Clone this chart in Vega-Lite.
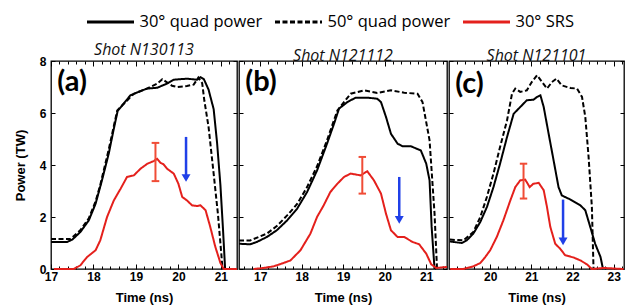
{
"$schema": "https://vega.github.io/schema/vega-lite/v6.json",
"padding": {"left": 13, "top": 5, "right": 2, "bottom": 0},
"background": "white",
"bounds": "flush",
"config": {
  "view": {"stroke": "#000", "strokeWidth": 1.3},
  "axis": {"domain": false, "grid": false, "labelFont": "Liberation Sans", "labelFontWeight": "bold", "labelFontSize": 12, "labelColor": "#000", "tickColor": "#000", "tickWidth": 1, "titleFont": "Liberation Sans", "titleFontWeight": "bold", "titleFontSize": 13, "titleColor": "#000"}
},
"datasets": {
  "a": [
    {"s":"q30","t":17.0,"P":1.04},{"s":"q30","t":17.38,"P":1.04},{"s":"q30","t":17.5,"P":1.13},{"s":"q30","t":17.69,"P":1.42},{"s":"q30","t":17.89,"P":1.87},{"s":"q30","t":18.05,"P":2.51},{"s":"q30","t":18.2,"P":3.41},{"s":"q30","t":18.36,"P":4.44},{"s":"q30","t":18.48,"P":5.4},{"s":"q30","t":18.57,"P":6.08},{"s":"q30","t":18.71,"P":6.36},{"s":"q30","t":18.87,"P":6.68},{"s":"q30","t":19.06,"P":6.81},{"s":"q30","t":19.26,"P":6.94},{"s":"q30","t":19.5,"P":6.97},{"s":"q30","t":19.73,"P":7.13},{"s":"q30","t":19.89,"P":7.28},{"s":"q30","t":20.2,"P":7.32},{"s":"q30","t":20.44,"P":7.28},{"s":"q30","t":20.52,"P":7.38},{"s":"q30","t":20.6,"P":7.3},{"s":"q30","t":20.71,"P":6.9},{"s":"q30","t":20.83,"P":6.15},{"s":"q30","t":20.91,"P":4.87},{"s":"q30","t":20.99,"P":3.21},{"s":"q30","t":21.05,"P":1.54},{"s":"q30","t":21.1,"P":0},
    {"s":"q50","t":17.0,"P":1.15},{"s":"q50","t":17.46,"P":1.15},{"s":"q50","t":17.69,"P":1.49},{"s":"q50","t":17.89,"P":1.95},{"s":"q50","t":18.05,"P":2.6},{"s":"q50","t":18.16,"P":3.23},{"s":"q50","t":18.36,"P":4.6},{"s":"q50","t":18.48,"P":5.5},{"s":"q50","t":18.56,"P":6.1},{"s":"q50","t":18.95,"P":6.74},{"s":"q50","t":19.26,"P":6.94},{"s":"q50","t":19.5,"P":7.13},{"s":"q50","t":19.62,"P":7.3},{"s":"q50","t":19.73,"P":7.18},{"s":"q50","t":19.85,"P":7.05},{"s":"q50","t":19.97,"P":7.0},{"s":"q50","t":20.2,"P":7.04},{"s":"q50","t":20.36,"P":7.09},{"s":"q50","t":20.47,"P":7.36},{"s":"q50","t":20.56,"P":7.15},{"s":"q50","t":20.61,"P":6.49},{"s":"q50","t":20.71,"P":5.47},{"s":"q50","t":20.83,"P":3.67},{"s":"q50","t":20.93,"P":2.13},{"s":"q50","t":21.01,"P":0.59},{"s":"q50","t":21.04,"P":0},
    {"s":"srs","t":17.07,"P":0},{"s":"srs","t":17.54,"P":0},{"s":"srs","t":17.69,"P":0.14},{"s":"srs","t":17.85,"P":0.46},{"s":"srs","t":18.05,"P":0.72},{"s":"srs","t":18.16,"P":1.1},{"s":"srs","t":18.32,"P":2.0},{"s":"srs","t":18.48,"P":2.64},{"s":"srs","t":18.64,"P":3.09},{"s":"srs","t":18.79,"P":3.54},{"s":"srs","t":18.95,"P":3.6},{"s":"srs","t":19.11,"P":3.86},{"s":"srs","t":19.27,"P":4.05},{"s":"srs","t":19.42,"P":4.15},{"s":"srs","t":19.5,"P":4.24},{"s":"srs","t":19.58,"P":4.08},{"s":"srs","t":19.65,"P":4.03},{"s":"srs","t":19.73,"P":3.86},{"s":"srs","t":19.89,"P":3.67},{"s":"srs","t":20.0,"P":3.28},{"s":"srs","t":20.09,"P":2.77},{"s":"srs","t":20.2,"P":2.64},{"s":"srs","t":20.32,"P":2.45},{"s":"srs","t":20.44,"P":2.42},{"s":"srs","t":20.52,"P":2.45},{"s":"srs","t":20.64,"P":2.26},{"s":"srs","t":20.75,"P":1.62},{"s":"srs","t":20.87,"P":0.85},{"s":"srs","t":20.99,"P":0.23},{"s":"srs","t":21.07,"P":0},{"s":"srs","t":21.38,"P":0}
  ],
  "b": [
    {"s":"q30","t":16.49,"P":0.97},{"s":"q30","t":16.76,"P":0.95},{"s":"q30","t":16.92,"P":1.04},{"s":"q30","t":17.16,"P":1.23},{"s":"q30","t":17.4,"P":1.49},{"s":"q30","t":17.65,"P":1.87},{"s":"q30","t":17.89,"P":2.32},{"s":"q30","t":18.13,"P":2.96},{"s":"q30","t":18.37,"P":3.79},{"s":"q30","t":18.61,"P":4.82},{"s":"q30","t":18.78,"P":5.59},{"s":"q30","t":18.9,"P":6.17},{"s":"q30","t":19.1,"P":6.42},{"s":"q30","t":19.3,"P":6.59},{"s":"q30","t":19.58,"P":6.59},{"s":"q30","t":19.82,"P":6.55},{"s":"q30","t":19.91,"P":6.42},{"s":"q30","t":20.03,"P":5.85},{"s":"q30","t":20.15,"P":5.2},{"s":"q30","t":20.31,"P":4.82},{"s":"q30","t":20.43,"P":4.72},{"s":"q30","t":20.63,"P":4.72},{"s":"q30","t":20.87,"P":4.56},{"s":"q30","t":21.0,"P":4.05},{"s":"q30","t":21.08,"P":3.41},{"s":"q30","t":21.13,"P":1.62},{"s":"q30","t":21.2,"P":0},
    {"s":"q50","t":16.49,"P":1.1},{"s":"q50","t":16.76,"P":1.1},{"s":"q50","t":17.16,"P":1.36},{"s":"q50","t":17.4,"P":1.65},{"s":"q50","t":17.65,"P":2.06},{"s":"q50","t":17.89,"P":2.5},{"s":"q50","t":18.13,"P":3.15},{"s":"q50","t":18.37,"P":3.95},{"s":"q50","t":18.61,"P":4.95},{"s":"q50","t":18.86,"P":6.1},{"s":"q50","t":19.18,"P":6.74},{"s":"q50","t":19.5,"P":6.87},{"s":"q50","t":19.82,"P":6.77},{"s":"q50","t":20.15,"P":6.87},{"s":"q50","t":20.47,"P":6.78},{"s":"q50","t":20.79,"P":6.74},{"s":"q50","t":20.91,"P":6.42},{"s":"q50","t":21.08,"P":4.95},{"s":"q50","t":21.2,"P":2.13},{"s":"q50","t":21.26,"P":0},
    {"s":"srs","t":16.84,"P":0},{"s":"srs","t":17.08,"P":0.04},{"s":"srs","t":17.32,"P":0.1},{"s":"srs","t":17.56,"P":0.23},{"s":"srs","t":17.73,"P":0.33},{"s":"srs","t":17.97,"P":0.72},{"s":"srs","t":18.21,"P":1.36},{"s":"srs","t":18.37,"P":2.0},{"s":"srs","t":18.53,"P":2.45},{"s":"srs","t":18.69,"P":2.96},{"s":"srs","t":18.86,"P":3.28},{"s":"srs","t":19.02,"P":3.54},{"s":"srs","t":19.18,"P":3.67},{"s":"srs","t":19.42,"P":3.6},{"s":"srs","t":19.58,"P":3.76},{"s":"srs","t":19.74,"P":3.41},{"s":"srs","t":19.91,"P":2.9},{"s":"srs","t":20.03,"P":2.13},{"s":"srs","t":20.15,"P":1.49},{"s":"srs","t":20.31,"P":1.23},{"s":"srs","t":20.47,"P":1.23},{"s":"srs","t":20.67,"P":1.04},{"s":"srs","t":20.83,"P":0.95},{"s":"srs","t":21.0,"P":0.59},{"s":"srs","t":21.12,"P":0.18},{"s":"srs","t":21.24,"P":0.04},{"s":"srs","t":21.5,"P":0.08}
  ],
  "c": [
    {"s":"q30","t":19.02,"P":1.06},{"s":"q30","t":19.11,"P":1.04},{"s":"q30","t":19.31,"P":1.0},{"s":"q30","t":19.43,"P":1.1},{"s":"q30","t":19.59,"P":1.36},{"s":"q30","t":19.76,"P":1.81},{"s":"q30","t":19.92,"P":2.38},{"s":"q30","t":20.08,"P":3.15},{"s":"q30","t":20.24,"P":4.05},{"s":"q30","t":20.41,"P":5.08},{"s":"q30","t":20.57,"P":5.97},{"s":"q30","t":20.73,"P":6.23},{"s":"q30","t":20.89,"P":6.49},{"s":"q30","t":21.05,"P":6.51},{"s":"q30","t":21.14,"P":6.62},{"s":"q30","t":21.22,"P":6.68},{"s":"q30","t":21.3,"P":6.23},{"s":"q30","t":21.42,"P":5.2},{"s":"q30","t":21.54,"P":4.18},{"s":"q30","t":21.66,"P":3.15},{"s":"q30","t":21.74,"P":2.83},{"s":"q30","t":21.95,"P":2.67},{"s":"q30","t":22.19,"P":2.45},{"s":"q30","t":22.31,"P":2.26},{"s":"q30","t":22.43,"P":1.62},{"s":"q30","t":22.55,"P":0.97},{"s":"q30","t":22.68,"P":0.46},{"s":"q30","t":22.74,"P":0},
    {"s":"q50","t":19.02,"P":1.13},{"s":"q50","t":19.35,"P":1.1},{"s":"q50","t":19.59,"P":1.42},{"s":"q50","t":19.76,"P":2.0},{"s":"q50","t":19.92,"P":2.77},{"s":"q50","t":20.08,"P":3.67},{"s":"q50","t":20.24,"P":4.69},{"s":"q50","t":20.41,"P":5.72},{"s":"q50","t":20.53,"P":6.74},{"s":"q50","t":20.61,"P":6.94},{"s":"q50","t":20.73,"P":6.81},{"s":"q50","t":20.89,"P":6.87},{"s":"q50","t":21.01,"P":7.19},{"s":"q50","t":21.14,"P":7.45},{"s":"q50","t":21.26,"P":7.19},{"s":"q50","t":21.38,"P":6.94},{"s":"q50","t":21.5,"P":7.19},{"s":"q50","t":21.61,"P":7.32},{"s":"q50","t":21.74,"P":7.06},{"s":"q50","t":21.95,"P":6.96},{"s":"q50","t":22.11,"P":6.94},{"s":"q50","t":22.23,"P":6.62},{"s":"q50","t":22.31,"P":5.85},{"s":"q50","t":22.39,"P":4.31},{"s":"q50","t":22.47,"P":2.38},{"s":"q50","t":22.51,"P":0},
    {"s":"srs","t":19.03,"P":0},{"s":"srs","t":19.35,"P":0},{"s":"srs","t":19.59,"P":0.1},{"s":"srs","t":19.76,"P":0.23},{"s":"srs","t":19.88,"P":0.46},{"s":"srs","t":20.0,"P":0.72},{"s":"srs","t":20.16,"P":1.23},{"s":"srs","t":20.32,"P":1.87},{"s":"srs","t":20.49,"P":2.64},{"s":"srs","t":20.61,"P":3.15},{"s":"srs","t":20.73,"P":3.41},{"s":"srs","t":20.85,"P":3.44},{"s":"srs","t":20.96,"P":3.15},{"s":"srs","t":21.05,"P":3.28},{"s":"srs","t":21.18,"P":3.31},{"s":"srs","t":21.3,"P":3.03},{"s":"srs","t":21.38,"P":2.38},{"s":"srs","t":21.46,"P":1.62},{"s":"srs","t":21.58,"P":0.97},{"s":"srs","t":21.7,"P":0.78},{"s":"srs","t":21.82,"P":0.53},{"s":"srs","t":22.03,"P":0.44},{"s":"srs","t":22.19,"P":0.33},{"s":"srs","t":22.35,"P":0.18},{"s":"srs","t":22.47,"P":0},{"s":"srs","t":22.76,"P":0.04},{"s":"srs","t":23.24,"P":0}
  ]
},
"spacing": 2,
"resolve": {"scale": {"x": "independent", "y": "independent", "color": "shared", "strokeDash": "shared"}, "legend": {"color": "shared", "strokeDash": "shared"}},
"hconcat": [
  {
    "width": 186, "height": 208,
    "title": {"text": "Shot N130113", "font": "Open Sans", "fontStyle": "italic", "fontWeight": "normal", "fontSize": 16, "color": "#111", "offset": -3},
    "resolve": {"axis": {"x": "independent", "y": "independent"}},
    "layer": [
      {"data": {"name": "a"}, "mark": {"type": "line", "strokeWidth": 2},
       "encoding": {
         "x": {"field": "t", "type": "quantitative", "scale": {"domain": [17, 21.38], "nice": false, "zero": false},
               "axis": {"title": "Time (ns)", "values": [17,17.2,17.4,17.6,17.8,18,18.2,18.4,18.6,18.8,19,19.2,19.4,19.6,19.8,20,20.2,20.4,20.6,20.8,21,21.2], "labelExpr": "abs(datum.value-round(datum.value))<0.01 ? format(datum.value,'d') : ''", "tickSize": {"condition": {"test": "abs(datum.value-round(datum.value))<0.01", "value": -5}, "value": -3}, "labelFlush": false, "labelOverlap": false, "labelPadding": 7, "titlePadding": 7}},
         "y": {"field": "P", "type": "quantitative", "scale": {"domain": [0, 8], "nice": false, "zero": true},
               "axis": {"title": "Power (TW)", "values": [0,2,4,6,8], "tickSize": -4, "labelPadding": 9, "titlePadding": 12}},
         "color": {"field": "s", "type": "nominal", "scale": {"domain": ["q30","q50","srs"], "range": ["#000000","#000000","#e4201c"]},
                   "legend": {"title": null, "orient": "none", "legendX": 43, "legendY": -55.5, "direction": "horizontal", "symbolType": "M-1.567,0H1.567", "symbolSize": 900, "symbolStrokeWidth": 3, "symbolFillColor": "transparent", "labelFont": "Open Sans", "labelFontSize": 16.5, "labelColor": "#000", "columnPadding": 5, "labelOffset": 12.5, "labelExpr": "datum.value=='q30' ? '30° quad power' : datum.value=='q50' ? '50° quad power' : '30° SRS'"}},
         "strokeDash": {"field": "s", "type": "nominal", "scale": {"domain": ["q30","q50","srs"], "range": [[1,0],[5,2.5],[1,0]]},
                   "legend": {"title": null, "orient": "none", "legendX": 43, "legendY": -55.5, "direction": "horizontal", "symbolType": "M-1.567,0H1.567", "symbolSize": 900, "symbolStrokeWidth": 3, "symbolFillColor": "transparent", "labelFont": "Open Sans", "labelFontSize": 16.5, "labelColor": "#000", "columnPadding": 5, "labelOffset": 12.5, "labelExpr": "datum.value=='q30' ? '30° quad power' : datum.value=='q50' ? '50° quad power' : '30° SRS'"}}
       }},
      {"data": {"name": "a"}, "mark": {"type": "point", "opacity": 0, "size": 1},
       "encoding": {
         "x": {"field": "t", "type": "quantitative", "axis": {"orient": "top", "title": null, "labels": false, "values": [17,17.2,17.4,17.6,17.8,18,18.2,18.4,18.6,18.8,19,19.2,19.4,19.6,19.8,20,20.2,20.4,20.6,20.8,21,21.2], "tickSize": {"condition": {"test": "abs(datum.value-round(datum.value))<0.01", "value": -5}, "value": -3}}},
         "y": {"field": "P", "type": "quantitative", "axis": {"orient": "right", "title": null, "labels": false, "values": [0,2,4,6,8], "tickSize": -4}}
       }},
      {"data": {"values": [{"t": 19.46, "lo": 3.38, "hi": 4.85, "tl": 19.37, "tr": 19.55}]},
       "layer": [
         {"mark": {"type": "rule", "color": "#f04c36", "strokeWidth": 2}, "encoding": {"x": {"field": "t", "type": "quantitative", "axis": null}, "y": {"field": "lo", "type": "quantitative", "axis": null}, "y2": {"field": "hi"}}},
         {"mark": {"type": "rule", "color": "#f04c36", "strokeWidth": 2}, "encoding": {"x": {"field": "tl", "type": "quantitative", "axis": null}, "x2": {"field": "tr"}, "y": {"field": "lo", "type": "quantitative", "axis": null}}},
         {"mark": {"type": "rule", "color": "#f04c36", "strokeWidth": 2}, "encoding": {"x": {"field": "tl", "type": "quantitative", "axis": null}, "x2": {"field": "tr"}, "y": {"field": "hi", "type": "quantitative", "axis": null}}}
       ]},
      {"data": {"values": [{"t": 20.18, "top": 5.08, "bot": 3.6, "head": 3.5}]},
       "layer": [
         {"mark": {"type": "rule", "color": "#2040e8", "strokeWidth": 2.5}, "encoding": {"x": {"field": "t", "type": "quantitative", "axis": null}, "y": {"field": "top", "type": "quantitative", "axis": null}, "y2": {"field": "bot"}}},
         {"mark": {"type": "point", "shape": "triangle-down", "filled": true, "color": "#2040e8", "size": 80, "opacity": 1}, "encoding": {"x": {"field": "t", "type": "quantitative", "axis": null}, "y": {"field": "head", "type": "quantitative", "axis": null}}}
       ]},
      {"data": {"values": [{"t": 17.15, "P": 7.72, "lab": "(a)"}]},
       "mark": {"type": "text", "font": "Lato", "fontWeight": "bold", "fontSize": 29, "align": "left", "baseline": "top", "color": "#000"},
       "encoding": {"x": {"field": "t", "type": "quantitative", "axis": null}, "y": {"field": "P", "type": "quantitative", "axis": null}, "text": {"field": "lab"}}}
    ]
  },
  {
    "width": 208, "height": 208,
    "title": {"text": "Shot N121112", "font": "Open Sans", "fontStyle": "italic", "fontWeight": "normal", "fontSize": 16, "color": "#111", "offset": -3},
    "resolve": {"axis": {"x": "independent", "y": "independent"}},
    "layer": [
      {"data": {"name": "b"}, "mark": {"type": "line", "strokeWidth": 2},
       "encoding": {
         "x": {"field": "t", "type": "quantitative", "scale": {"domain": [16.49, 21.5], "nice": false, "zero": false},
               "axis": {"title": "Time (ns)", "values": [16.6,16.8,17,17.2,17.4,17.6,17.8,18,18.2,18.4,18.6,18.8,19,19.2,19.4,19.6,19.8,20,20.2,20.4,20.6,20.8,21,21.2,21.4], "labelExpr": "abs(datum.value-round(datum.value))<0.01 ? format(datum.value,'d') : ''", "tickSize": {"condition": {"test": "abs(datum.value-round(datum.value))<0.01", "value": -5}, "value": -3}, "labelFlush": false, "labelOverlap": false, "labelPadding": 7, "titlePadding": 7}},
         "y": {"field": "P", "type": "quantitative", "scale": {"domain": [0, 8], "nice": false, "zero": true},
               "axis": {"title": null, "labels": false, "values": [0,2,4,6,8], "tickSize": -4}},
         "color": {"field": "s", "type": "nominal", "scale": {"domain": ["q30","q50","srs"], "range": ["#000000","#000000","#e4201c"]},
                   "legend": {"title": null, "orient": "none", "legendX": 43, "legendY": -55.5, "direction": "horizontal", "symbolType": "M-1.567,0H1.567", "symbolSize": 900, "symbolStrokeWidth": 3, "symbolFillColor": "transparent", "labelFont": "Open Sans", "labelFontSize": 16.5, "labelColor": "#000", "columnPadding": 5, "labelOffset": 12.5, "labelExpr": "datum.value=='q30' ? '30° quad power' : datum.value=='q50' ? '50° quad power' : '30° SRS'"}},
         "strokeDash": {"field": "s", "type": "nominal", "scale": {"domain": ["q30","q50","srs"], "range": [[1,0],[5,2.5],[1,0]]},
                   "legend": {"title": null, "orient": "none", "legendX": 43, "legendY": -55.5, "direction": "horizontal", "symbolType": "M-1.567,0H1.567", "symbolSize": 900, "symbolStrokeWidth": 3, "symbolFillColor": "transparent", "labelFont": "Open Sans", "labelFontSize": 16.5, "labelColor": "#000", "columnPadding": 5, "labelOffset": 12.5, "labelExpr": "datum.value=='q30' ? '30° quad power' : datum.value=='q50' ? '50° quad power' : '30° SRS'"}}
       }},
      {"data": {"name": "b"}, "mark": {"type": "point", "opacity": 0, "size": 1},
       "encoding": {
         "x": {"field": "t", "type": "quantitative", "axis": {"orient": "top", "title": null, "labels": false, "values": [16.6,16.8,17,17.2,17.4,17.6,17.8,18,18.2,18.4,18.6,18.8,19,19.2,19.4,19.6,19.8,20,20.2,20.4,20.6,20.8,21,21.2,21.4], "tickSize": {"condition": {"test": "abs(datum.value-round(datum.value))<0.01", "value": -5}, "value": -3}}},
         "y": {"field": "P", "type": "quantitative", "axis": {"orient": "right", "title": null, "labels": false, "values": [0,2,4,6,8], "tickSize": -4}}
       }},
      {"data": {"values": [{"t": 19.46, "lo": 2.9, "hi": 4.31, "tl": 19.37, "tr": 19.55}]},
       "layer": [
         {"mark": {"type": "rule", "color": "#f04c36", "strokeWidth": 2}, "encoding": {"x": {"field": "t", "type": "quantitative", "axis": null}, "y": {"field": "lo", "type": "quantitative", "axis": null}, "y2": {"field": "hi"}}},
         {"mark": {"type": "rule", "color": "#f04c36", "strokeWidth": 2}, "encoding": {"x": {"field": "tl", "type": "quantitative", "axis": null}, "x2": {"field": "tr"}, "y": {"field": "lo", "type": "quantitative", "axis": null}}},
         {"mark": {"type": "rule", "color": "#f04c36", "strokeWidth": 2}, "encoding": {"x": {"field": "tl", "type": "quantitative", "axis": null}, "x2": {"field": "tr"}, "y": {"field": "hi", "type": "quantitative", "axis": null}}}
       ]},
      {"data": {"values": [{"t": 20.35, "top": 3.54, "bot": 1.99, "head": 1.89}]},
       "layer": [
         {"mark": {"type": "rule", "color": "#2040e8", "strokeWidth": 2.5}, "encoding": {"x": {"field": "t", "type": "quantitative", "axis": null}, "y": {"field": "top", "type": "quantitative", "axis": null}, "y2": {"field": "bot"}}},
         {"mark": {"type": "point", "shape": "triangle-down", "filled": true, "color": "#2040e8", "size": 80, "opacity": 1}, "encoding": {"x": {"field": "t", "type": "quantitative", "axis": null}, "y": {"field": "head", "type": "quantitative", "axis": null}}}
       ]},
      {"data": {"values": [{"t": 16.64, "P": 7.72, "lab": "(b)"}]},
       "mark": {"type": "text", "font": "Lato", "fontWeight": "bold", "fontSize": 29, "align": "left", "baseline": "top", "color": "#000"},
       "encoding": {"x": {"field": "t", "type": "quantitative", "axis": null}, "y": {"field": "P", "type": "quantitative", "axis": null}, "text": {"field": "lab"}}}
    ]
  },
  {
    "width": 175, "height": 208,
    "title": {"text": "Shot N121101", "font": "Open Sans", "fontStyle": "italic", "fontWeight": "normal", "fontSize": 16, "color": "#111", "offset": -3},
    "resolve": {"axis": {"x": "independent", "y": "independent"}},
    "layer": [
      {"data": {"name": "c"}, "mark": {"type": "line", "strokeWidth": 2},
       "encoding": {
         "x": {"field": "t", "type": "quantitative", "scale": {"domain": [19.0, 23.25], "nice": false, "zero": false},
               "axis": {"title": "Time (ns)", "values": [19.2,19.4,19.6,19.8,20,20.2,20.4,20.6,20.8,21,21.2,21.4,21.6,21.8,22,22.2,22.4,22.6,22.8,23,23.2], "labelExpr": "abs(datum.value-round(datum.value))<0.01 ? format(datum.value,'d') : ''", "tickSize": {"condition": {"test": "abs(datum.value-round(datum.value))<0.01", "value": -5}, "value": -3}, "labelFlush": false, "labelOverlap": false, "labelPadding": 7, "titlePadding": 7}},
         "y": {"field": "P", "type": "quantitative", "scale": {"domain": [0, 8], "nice": false, "zero": true},
               "axis": {"title": null, "labels": false, "values": [0,2,4,6,8], "tickSize": -4}},
         "color": {"field": "s", "type": "nominal", "scale": {"domain": ["q30","q50","srs"], "range": ["#000000","#000000","#e4201c"]},
                   "legend": {"title": null, "orient": "none", "legendX": 43, "legendY": -55.5, "direction": "horizontal", "symbolType": "M-1.567,0H1.567", "symbolSize": 900, "symbolStrokeWidth": 3, "symbolFillColor": "transparent", "labelFont": "Open Sans", "labelFontSize": 16.5, "labelColor": "#000", "columnPadding": 5, "labelOffset": 12.5, "labelExpr": "datum.value=='q30' ? '30° quad power' : datum.value=='q50' ? '50° quad power' : '30° SRS'"}},
         "strokeDash": {"field": "s", "type": "nominal", "scale": {"domain": ["q30","q50","srs"], "range": [[1,0],[5,2.5],[1,0]]},
                   "legend": {"title": null, "orient": "none", "legendX": 43, "legendY": -55.5, "direction": "horizontal", "symbolType": "M-1.567,0H1.567", "symbolSize": 900, "symbolStrokeWidth": 3, "symbolFillColor": "transparent", "labelFont": "Open Sans", "labelFontSize": 16.5, "labelColor": "#000", "columnPadding": 5, "labelOffset": 12.5, "labelExpr": "datum.value=='q30' ? '30° quad power' : datum.value=='q50' ? '50° quad power' : '30° SRS'"}}
       }},
      {"data": {"name": "c"}, "mark": {"type": "point", "opacity": 0, "size": 1},
       "encoding": {
         "x": {"field": "t", "type": "quantitative", "axis": {"orient": "top", "title": null, "labels": false, "values": [19.2,19.4,19.6,19.8,20,20.2,20.4,20.6,20.8,21,21.2,21.4,21.6,21.8,22,22.2,22.4,22.6,22.8,23,23.2], "tickSize": {"condition": {"test": "abs(datum.value-round(datum.value))<0.01", "value": -5}, "value": -3}}},
         "y": {"field": "P", "type": "quantitative", "axis": {"orient": "right", "title": null, "labels": false, "values": [0,2,4,6,8], "tickSize": -4}}
       }},
      {"data": {"values": [{"t": 20.81, "lo": 2.71, "hi": 4.05, "tl": 20.72, "tr": 20.9}]},
       "layer": [
         {"mark": {"type": "rule", "color": "#f04c36", "strokeWidth": 2}, "encoding": {"x": {"field": "t", "type": "quantitative", "axis": null}, "y": {"field": "lo", "type": "quantitative", "axis": null}, "y2": {"field": "hi"}}},
         {"mark": {"type": "rule", "color": "#f04c36", "strokeWidth": 2}, "encoding": {"x": {"field": "tl", "type": "quantitative", "axis": null}, "x2": {"field": "tr"}, "y": {"field": "lo", "type": "quantitative", "axis": null}}},
         {"mark": {"type": "rule", "color": "#f04c36", "strokeWidth": 2}, "encoding": {"x": {"field": "tl", "type": "quantitative", "axis": null}, "x2": {"field": "tr"}, "y": {"field": "hi", "type": "quantitative", "axis": null}}}
       ]},
      {"data": {"values": [{"t": 21.77, "top": 2.67, "bot": 1.16, "head": 1.06}]},
       "layer": [
         {"mark": {"type": "rule", "color": "#2040e8", "strokeWidth": 2.5}, "encoding": {"x": {"field": "t", "type": "quantitative", "axis": null}, "y": {"field": "top", "type": "quantitative", "axis": null}, "y2": {"field": "bot"}}},
         {"mark": {"type": "point", "shape": "triangle-down", "filled": true, "color": "#2040e8", "size": 80, "opacity": 1}, "encoding": {"x": {"field": "t", "type": "quantitative", "axis": null}, "y": {"field": "head", "type": "quantitative", "axis": null}}}
       ]},
      {"data": {"values": [{"t": 19.15, "P": 7.65, "lab": "(c)"}]},
       "mark": {"type": "text", "font": "Lato", "fontWeight": "bold", "fontSize": 29, "align": "left", "baseline": "top", "color": "#000"},
       "encoding": {"x": {"field": "t", "type": "quantitative", "axis": null}, "y": {"field": "P", "type": "quantitative", "axis": null}, "text": {"field": "lab"}}}
    ]
  }
]
}
